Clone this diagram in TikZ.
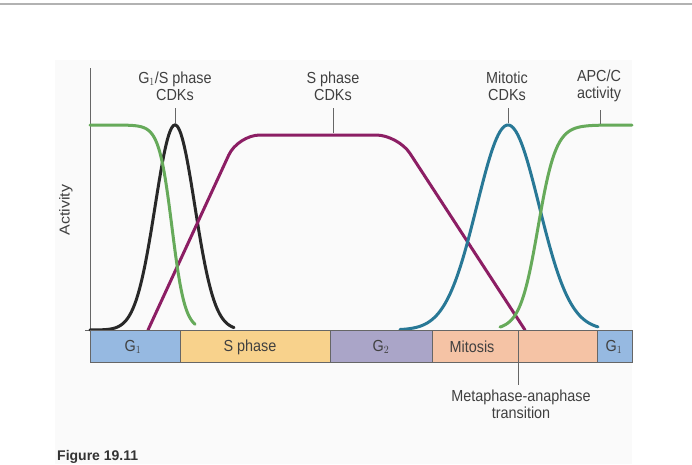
\documentclass[tikz,border=0pt]{standalone}
\usepackage{fontspec}
\setmainfont{Liberation Sans}
\begin{document}
\begin{tikzpicture}[x=1pt,y=-1pt,
  lbl/.style={font=\fontsize{16}{17}\selectfont, text=black!75, align=center, inner sep=0pt, xscale=0.9},
  ph/.style={draw=black!60, line width=0.6pt},
  crv/.style={line width=3pt, line cap=round},
  tick/.style={draw=black!60, line width=0.6pt}]
\useasboundingbox (0,0) rectangle (692,464);
\fill[white] (0,0) rectangle (692,464);
\fill[black!2] (55,60) rectangle (632,464);
\draw[black!30, line width=1.5pt] (0,4) -- (692,4);
\definecolor{gr}{RGB}{102,170,90}
\definecolor{bk}{RGB}{40,40,40}
\definecolor{pu}{RGB}{140,30,100}
\definecolor{bl}{RGB}{40,120,150}
% axes
\coordinate (ytop) at (90,68);
\coordinate (orig) at (90,330);
\coordinate (xend) at (632,330);
\draw[black!60, line width=0.6pt] (ytop) -- (orig) -- (85,330) (orig) -- (xend);
% curves
\draw[crv, bk] plot[domain=90:234, samples=120] (\x, {330-205*exp(-min(9,((\x-175)/28)^2))});
\draw[crv, pu, rounded corners=22pt] (148,330) -- (238,135) -- (398,135) -- (525,330);
\draw[crv, bl] plot[domain=400:598, samples=120] (\x, {330-205*exp(-min(9,((\x-508)/44)^2))});
\draw[crv, gr] plot[domain=90:195, samples=120] (\x, {125+205/(1+exp(max(-9,min(9,-(\x-172)/6.5))))});
\draw[crv, gr] plot[domain=500:632, samples=120] (\x, {125+205/(1+exp(max(-9,min(9,(\x-538)/9))))});
% phase bar
\node[ph, fill={rgb,255:red,150;green,185;blue,225}, minimum width=90, minimum height=32, anchor=north west, inner sep=0] (g1a) at (90,330) {};
\node[ph, fill={rgb,255:red,248;green,210;blue,140}, minimum width=150, minimum height=32, anchor=north west, inner sep=0] (sp) at (180,330) {};
\node[ph, fill={rgb,255:red,170;green,165;blue,200}, minimum width=102, minimum height=32, anchor=north west, inner sep=0] (g2) at (330,330) {};
\node[ph, fill={rgb,255:red,245;green,195;blue,165}, minimum width=165, minimum height=32, anchor=north west, inner sep=0] (mi) at (432,330) {};
\node[ph, fill={rgb,255:red,150;green,185;blue,225}, minimum width=35, minimum height=32, anchor=north west, inner sep=0] (g1b) at (597,330) {};
\node[lbl] (tg1a) at (133,347) {G$_1$};
\node[lbl] (tsp) at (250,347) {S phase};
\node[lbl] (tg2) at (381,347) {G$_2$};
\node[lbl] (tmi) at (472,347) {Mitosis};
\node[lbl] (tg1b) at (614,347) {G$_1$};
% transition
\coordinate (ma1) at (518,330);
\coordinate (ma2) at (518,385);
\draw[tick] (ma1) -- (ma2);
\node[lbl, anchor=north] (mat) at (521,390) {Metaphase-anaphase\\transition};
% top labels
\node[lbl] (l1) at (175,86) {G$_1$/S phase\\CDKs};
\draw[tick] (175,108) -- (175,124);
\node[lbl] (l2) at (333,86) {S phase\\CDKs};
\draw[tick] (333,108) -- (333,133);
\node[lbl] (l3) at (507,86) {Mitotic\\CDKs};
\draw[tick] (508,108) -- (508,123);
\node[lbl] (l4) at (599,86) {APC/C\\activity};
\draw[tick] (600,110) -- (600,124);
\node[lbl, rotate=90, font=\fontsize{16}{17}\selectfont] (act) at (66,210) {Activity};
\node[anchor=north west, font=\bfseries\fontsize{14}{15}\selectfont, text=black!80, inner sep=0] (fig) at (57,450) {Figure 19.11};
\end{tikzpicture}
\end{document}
